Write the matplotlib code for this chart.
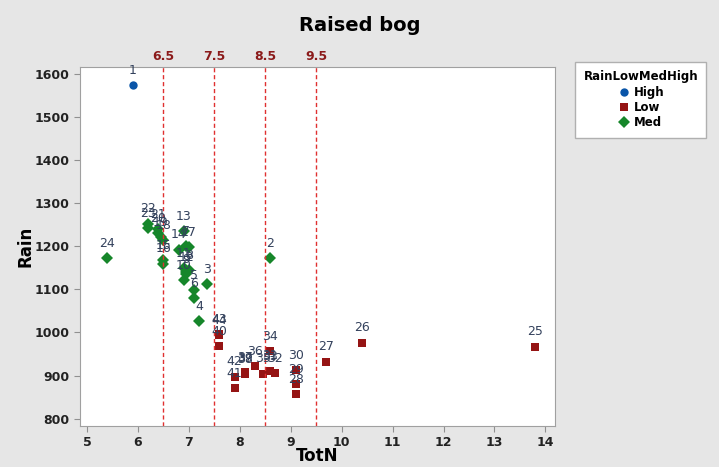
import numpy as np
import matplotlib.pyplot as plt

# Raised bog: TotN vs Rain, grouped by RainLowMedHigh
ids = np.arange(1, 45)
totn = [5.9, 8.6, 7.35, 7.2, 7.1, 7.1, 6.95, 7.0, 6.95, 6.9,
        6.9, 6.95, 6.9, 6.8, 6.5, 6.5, 7.0, 6.5, 6.45, 6.4,
        6.4, 6.2, 6.2, 5.4, 13.8, 10.4, 9.7, 9.1, 9.1, 9.1,
        8.6, 8.7, 8.6, 8.6, 8.45, 8.3, 8.1, 8.1, 8.1, 7.6,
        7.9, 7.9, 7.6, 7.6]
rain = [1575, 1172, 1112, 1026, 1098, 1080, 1200, 1145, 1135, 1122,
        1150, 1140, 1235, 1192, 1168, 1160, 1198, 1215, 1222, 1230,
        1240, 1253, 1243, 1172, 967, 976, 932, 856, 880, 912,
        911, 906, 910, 956, 904, 921, 908, 903, 906, 968,
        870, 897, 996, 993]
group = ["High"] + ["Med"] * 23 + ["Low"] * 20
ref_lines = [6.5, 7.5, 8.5, 9.5]

styles = {"High": ("o", "#0a55a8", 6),
          "Low": ("s", "#951414", 6),
          "Med": ("D", "#16862a", 6)}

fig = plt.figure(figsize=(7.19, 4.67), dpi=100, facecolor="#e6e6e6")
ax = fig.add_axes([0.111, 0.088, 0.661, 0.768])

x = np.array(totn)
y = np.array(rain)
g = np.array(group)
for name in ["High", "Low", "Med"]:
    m, c, s = styles[name]
    sel = g == name
    ax.plot(x[sel], y[sel], linestyle="none", marker=m, color=c,
            markersize=s, label=name, markeredgewidth=0)

for i, xi, yi in zip(ids, x, y):
    ax.annotate(str(i), (xi, yi), xytext=(0, 6), textcoords="offset points",
                ha="center", va="bottom", fontsize=9, color="#33415c")

for r in ref_lines:
    ax.axvline(r, color="#e03030", linestyle="--", linewidth=1, dashes=(3, 2))
    ax.text(r, 1.012, str(r), transform=ax.get_xaxis_transform(),
            ha="center", va="bottom", fontsize=9, fontweight="bold",
            color="#8b1a1a")

ax.set_xlim(4.86, 14.19)
ax.set_ylim(783, 1616)
ax.set_xticks(range(5, 15))
ax.set_yticks(range(800, 1700, 100))
ax.tick_params(labelsize=9, color="#909090", length=4)
for lbl in ax.get_xticklabels() + ax.get_yticklabels():
    lbl.set_fontweight("bold")
    lbl.set_color("#222222")
for sp in ax.spines.values():
    sp.set_color("#a0a0a0")

ax.set_xlabel("TotN", fontsize=12, fontweight="bold")
ax.set_ylabel("Rain", fontsize=12, fontweight="bold")
ax.xaxis.set_label_coords(0.5, -0.058)
ax.yaxis.set_label_coords(-0.095, 0.5)
fig.suptitle("Raised bog", fontsize=14, fontweight="bold", y=0.965)

leg = ax.legend(title="RainLowMedHigh", loc="upper left",
                bbox_to_anchor=(0.800, 0.867), bbox_transform=fig.transFigure,
                borderaxespad=0, fontsize=8.5, title_fontsize=8.5,
                frameon=True, fancybox=False, framealpha=1,
                edgecolor="#b0b0b0", handletextpad=0.3, borderpad=0.7,
                labelspacing=0.2, handlelength=1.2)
leg.get_title().set_fontweight("bold")
for t in leg.get_texts():
    t.set_fontweight("bold")

fig.savefig("out.png", dpi=100, facecolor=fig.get_facecolor())
